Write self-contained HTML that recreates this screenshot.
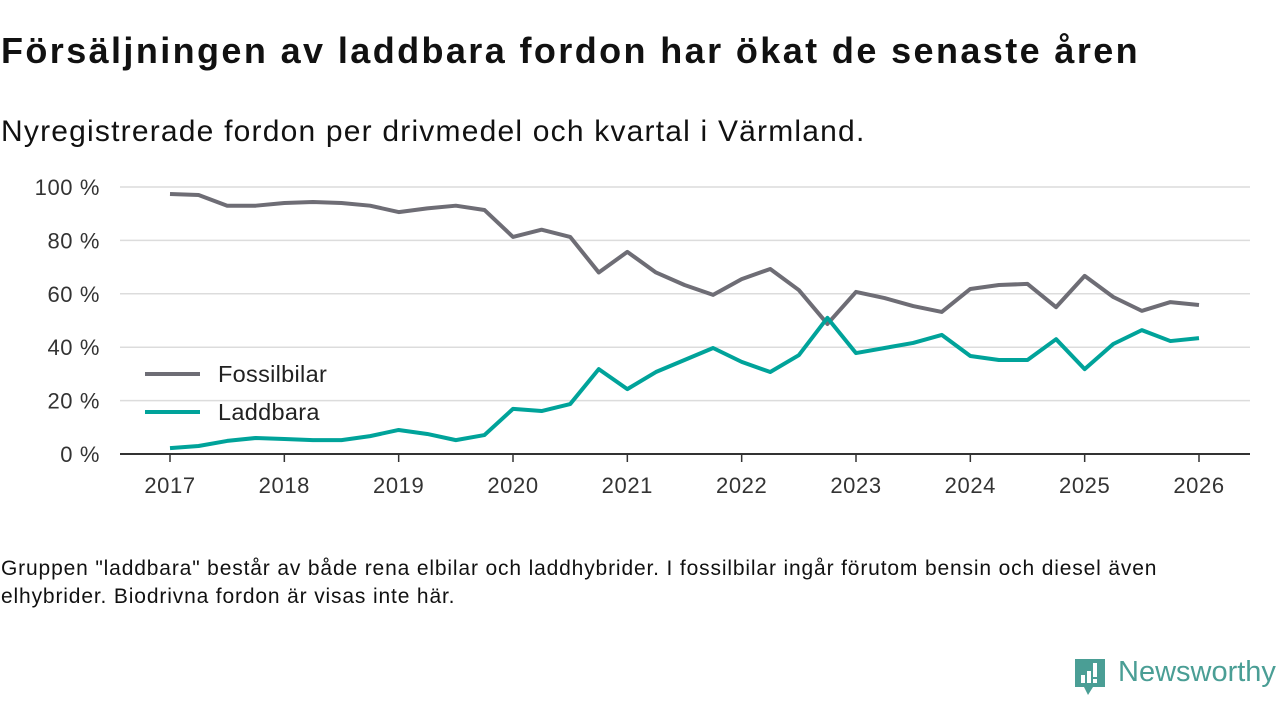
<!DOCTYPE html>
<html><head><meta charset="utf-8"><style>
body{margin:0;width:1280px;height:720px;background:#fff;font-family:"Liberation Sans",sans-serif;overflow:hidden;position:relative;color:#111}
h1{position:absolute;left:1px;top:30px;margin:0;font-size:36px;font-weight:bold;letter-spacing:2.4px;white-space:nowrap}
.sub{position:absolute;left:1px;top:115px;font-size:30px;letter-spacing:1.2px;white-space:nowrap}
.note{position:absolute;left:1px;top:555px;font-size:21px;letter-spacing:0.85px;line-height:28px;width:1215px}
svg{position:absolute;left:0;top:0}
</style></head><body>
<h1>Försäljningen av laddbara fordon har ökat de senaste åren</h1>
<div class="sub">Nyregistrerade fordon per drivmedel och kvartal i Värmland.</div>
<div class="note">Gruppen "laddbara" består av både rena elbilar och laddhybrider. I fossilbilar ingår förutom bensin och diesel även elhybrider. Biodrivna fordon är visas inte här.</div>
<svg id="chart" width="1280" height="720"></svg>
<div style="position:absolute;left:1073px;top:657px;">
<svg width="34" height="40" style="position:static"><path d="M2 2h30v28h-12l-5 8-4-8H2z" fill="#4a9e95"/><rect x="8" y="18" width="4" height="8" fill="#fff"/><rect x="14" y="14" width="4" height="12" fill="#fff"/><rect x="20" y="6" width="4" height="14" fill="#fff"/><rect x="20" y="22" width="4" height="4" fill="#fff"/></svg>
<span style="position:absolute;left:45px;top:-1px;font-size:29px;color:#4a9e95;white-space:nowrap">Newsworthy</span></div>
<script>
const years=[2017,2018,2019,2020,2021,2022,2023,2024,2025,2026];
const yTicks=[0,20,40,60,80,100];
const fossil=[97.4,97,93,93,94,94.4,94,93,90.6,92,93,91.4,81.3,84,81.3,68,75.7,68,63.3,59.6,65.5,69.3,61.4,48.7,60.7,58.4,55.4,53.2,61.8,63.3,63.7,55,66.7,58.8,53.6,56.9,55.8];
const laddbara=[2.2,3,4.9,6,5.6,5.2,5.2,6.7,9,7.5,5.2,7.1,16.9,16.1,18.7,31.8,24.3,30.7,35.2,39.7,34.5,30.7,37,51,37.8,39.7,41.6,44.6,36.7,35.2,35.2,43,31.8,41.2,46.4,42.3,43.4];
const NS="http://www.w3.org/2000/svg",svg=document.getElementById('chart');
const X=t=>170+(t-2017)*(1199-170)/9, Y=v=>454-v*2.67;
function el(tag,a,txt){const e=document.createElementNS(NS,tag);for(const k in a)e.setAttribute(k,a[k]);if(txt!=null)e.textContent=txt;svg.appendChild(e);return e;}
yTicks.forEach(v=>{
 const g=el('line',{x1:120,x2:1250,y1:Y(v),y2:Y(v),stroke:v?'#dcdcdc':'#333','stroke-width':v?1.5:2});
 
 
 const t=el('text',{x:100,y:Y(v)+8,'text-anchor':'end','font-size':22,'letter-spacing':0.6,fill:'#333'},v+' %');
 
 
});
years.forEach(yr=>{
 const l=el('line',{x1:X(yr),x2:X(yr),y1:454,y2:462,stroke:'#333','stroke-width':1.5});
 
 
 const t=el('text',{x:X(yr),y:493,'text-anchor':'middle','font-size':22,'letter-spacing':0.6,fill:'#333'},yr);
 
 
});
function line(d,c,n){
 const p=el('polyline',{points:d.map((v,i)=>X(2017+i/4)+','+Y(v)).join(' '),fill:'none',stroke:c,'stroke-width':4,'stroke-linejoin':'round'});
 
 
}
line(fossil,'#6e6d75','fossil-line');
line(laddbara,'#00a39a','laddbara-line');
[['Fossilbilar','#6e6d75',374],['Laddbara','#00a39a',412]].forEach(([n,c,y])=>{
 const l=el('line',{x1:145,x2:200,y1:y,y2:y,stroke:c,'stroke-width':4});
 
 
 const t=el('text',{x:218,y:y+8,'font-size':23.5,'letter-spacing':0.3,fill:'#222'},n);
 
 
});
</script>
</body></html>
